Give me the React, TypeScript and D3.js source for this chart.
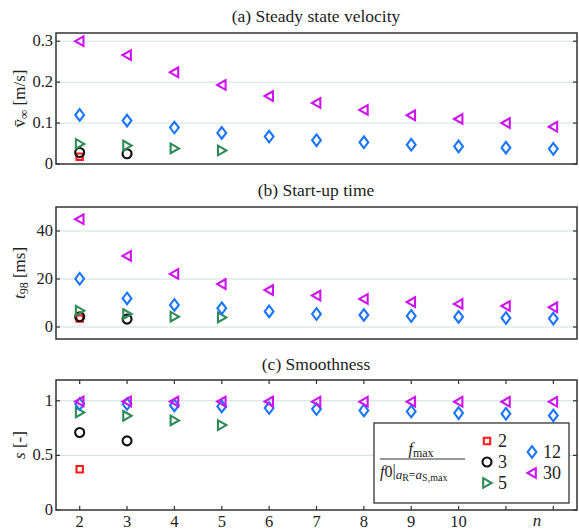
import React from "react";
import * as d3 from "d3";

const nValues = [2, 3, 4, 5, 6, 7, 8, 9, 10, 11, 12];

// ratio f_max / f0 series
const series = [
  { key: "2", color: "#ff1a1a", shape: "square" },
  { key: "3", color: "#111111", shape: "circle" },
  { key: "5", color: "#2e8b57", shape: "triR" },
  { key: "12", color: "#1a75ff", shape: "diamond" },
  { key: "30", color: "#cc14f0", shape: "triL" },
];

// (a) steady state velocity [m/s]
const velocity2 = [0.018];
const velocity3 = [0.028, 0.025];
const velocity5 = [0.049, 0.045, 0.038, 0.033];
const velocity12 = [0.12, 0.106, 0.089, 0.076, 0.067, 0.058, 0.053, 0.047, 0.043, 0.04, 0.037];
const velocity30 = [0.3, 0.266, 0.224, 0.193, 0.166, 0.149, 0.132, 0.119, 0.11, 0.1, 0.091];

// (b) start-up time [ms]
const time2 = [3.5];
const time3 = [4.3, 3.3];
const time5 = [6.8, 5.4, 4.3, 4.0];
const time12 = [20.1, 11.9, 9.2, 7.8, 6.5, 5.4, 5.0, 4.6, 4.2, 3.75, 3.5];
const time30 = [44.9, 29.6, 22.1, 17.9, 15.4, 13.1, 11.7, 10.4, 9.6, 8.75, 8.2];

// (c) smoothness [-]
const smooth2 = [0.373];
const smooth3 = [0.709, 0.633];
const smooth5 = [0.893, 0.862, 0.82, 0.777];
const smooth12 = [0.97, 0.97, 0.957, 0.948, 0.933, 0.924, 0.911, 0.902, 0.887, 0.881, 0.865];
const smooth30 = [0.994, 0.994, 0.993, 0.993, 0.993, 0.992, 0.992, 0.992, 0.991, 0.991, 0.991];

const xTickLabels = ["2", "3", "4", "5", "6", "7", "8", "9", "10", "", ""];

const ticksA = [0, 0.1, 0.2, 0.3];
const ticksB = [0, 20, 40];
const ticksC = [0, 0.5, 1];

const FONT = '"Liberation Serif", serif';
const AXIS = "#333";
const GRID = "#cfdede";

const x = d3.scaleLinear().domain([1.5, 12.5]).range([56, 577]);

function markerPath(shape: string): string {
  switch (shape) {
    case "square":
      return "M-3.2,-3.2H3.2V3.2H-3.2Z";
    case "circle":
      return d3.arc()({ innerRadius: 0, outerRadius: 4.5, startAngle: 0, endAngle: 2 * Math.PI }) as string;
    case "triR":
      return "M-3.8,-4.8L4.6,0L-3.8,4.8Z";
    case "triL":
      return "M3.8,-4.8L-4.6,0L3.8,4.8Z";
    case "diamond":
      return "M0,-5.8L4.4,0L0,5.8L-4.4,0Z";
  }
  return "";
}

function Marker({ shape, color, cx, cy }: any) {
  return (
    <path
      d={markerPath(shape)}
      transform={`translate(${cx},${cy})`}
      fill="none"
      stroke={color}
      strokeWidth={2.1}
    />
  );
}

function Panel({ top, bottom, domain, ticks, fmt, data, title, titleY, ylabel, xTicks }: any) {
  const y = d3.scaleLinear().domain(domain).range([bottom, top]);
  const [x0, x1] = x.range();
  return (
    <g>
      <text x={316} y={titleY} textAnchor="middle" fontSize={17.5} fill="#222">
        {title}
      </text>
      {ticks.map((t: number) => (
        <g key={t}>
          {y(t) < bottom - 1 && <line x1={x0} x2={x1} y1={y(t)} y2={y(t)} stroke={GRID} strokeWidth={1} />}
          <line x1={x0} x2={x0 + 4} y1={y(t)} y2={y(t)} stroke={AXIS} strokeWidth={1.2} />
          <line x1={x1} x2={x1 - 4} y1={y(t)} y2={y(t)} stroke={AXIS} strokeWidth={1.2} />
          <text x={x0 - 3} y={y(t) + 5} textAnchor="end" fontSize={16.5} fill="#222">
            {fmt(t)}
          </text>
        </g>
      ))}
      {xTicks &&
        nValues.map((n) => (
          <g key={n}>
            <line x1={x(n)} x2={x(n)} y1={bottom} y2={bottom - 4} stroke={AXIS} strokeWidth={1.2} />
            <line x1={x(n)} x2={x(n)} y1={top} y2={top + 4} stroke={AXIS} strokeWidth={1.2} />
          </g>
        ))}
      <rect x={x0} y={top} width={x1 - x0} height={bottom - top} fill="none" stroke={AXIS} strokeWidth={1.5} />
      {data.map((vals: number[], si: number) =>
        vals.map((v, i) => (
          <Marker key={`${si}-${i}`} shape={series[si].shape} color={series[si].color} cx={x(nValues[i])} cy={y(v)} />
        ))
      )}
      <g transform={`translate(25,${(top + bottom) / 2}) rotate(-90)`}>{ylabel}</g>
    </g>
  );
}

function Legend() {
  const bx = 374,
    by = 423,
    bw = 195,
    bh = 80;
  const col1 = [0, 1, 2];
  const col2 = [3, 4];
  return (
    <g fill="#222">
      <rect x={bx} y={by} width={bw} height={bh} fill="#fff" stroke={AXIS} strokeWidth={1.3} />
      <text x={421} y={454} textAnchor="middle" fontSize={16}>
        <tspan fontStyle="italic">f</tspan>
        <tspan fontSize={12} dy={3}>max</tspan>
      </text>
      <line x1={380} x2={465} y1={459} y2={459} stroke="#333" strokeWidth={1} />
      <text x={380} y={477} fontSize={16}>
        <tspan fontStyle="italic">f</tspan>
        <tspan>0</tspan>
        <tspan dy={-1}>|</tspan>
        <tspan fontStyle="italic" fontSize={13} dy={3}>a</tspan>
        <tspan fontSize={10} dy={2}>R</tspan>
        <tspan fontSize={12} dy={-2}>=</tspan>
        <tspan fontStyle="italic" fontSize={13}>a</tspan>
        <tspan fontSize={10} dy={2}>S,max</tspan>
      </text>
      {col1.map((si, i) => (
        <g key={si}>
          <Marker shape={series[si].shape} color={series[si].color} cx={487} cy={441 + i * 21} />
          <text x={498} y={447 + i * 21} fontSize={18}>
            {series[si].key}
          </text>
        </g>
      ))}
      {col2.map((si, i) => (
        <g key={si}>
          <Marker shape={series[si].shape} color={series[si].color} cx={532} cy={452 + i * 21} />
          <text x={543} y={458 + i * 21} fontSize={18}>
            {series[si].key}
          </text>
        </g>
      ))}
    </g>
  );
}

export default function App() {
  const labelText = { fontSize: 17, fill: "#222", textAnchor: "middle" as const };
  return (
    <svg
      width={579}
      height={530}
      style={{ position: "absolute", left: 0, top: 0, background: "#fff", fontFamily: FONT }}
    >
      <Panel
        top={33}
        bottom={164}
        domain={[0, 0.32]}
        ticks={ticksA}
        fmt={(t: number) => (t === 0 ? "0" : d3.format(".1f")(t))}
        data={[velocity2, velocity3, velocity5, velocity12, velocity30]}
        title="(a) Steady state velocity"
        titleY={22}
        xTicks={false}
        ylabel={
          <text {...labelText}>
            <tspan>v̄</tspan>
            <tspan fontSize={13} dy={3}>∞</tspan>
            <tspan dy={-3}> [m/s]</tspan>
          </text>
        }
      />
      <Panel
        top={207}
        bottom={339}
        domain={[-5, 50]}
        ticks={ticksB}
        fmt={(t: number) => String(t)}
        data={[time2, time3, time5, time12, time30]}
        title="(b) Start-up time"
        titleY={196}
        xTicks={false}
        ylabel={
          <text {...labelText}>
            <tspan fontStyle="italic">t</tspan>
            <tspan fontSize={12} dy={3}>98</tspan>
            <tspan dy={-3}> [ms]</tspan>
          </text>
        }
      />
      <Panel
        top={380}
        bottom={510}
        domain={[0, 1.19]}
        ticks={ticksC}
        fmt={(t: number) => String(t)}
        data={[smooth2, smooth3, smooth5, smooth12, smooth30]}
        title="(c) Smoothness"
        titleY={370}
        xTicks={true}
        ylabel={
          <text {...labelText}>
            <tspan fontStyle="italic">s</tspan>
            <tspan> [-]</tspan>
          </text>
        }
      />
      {nValues.map((n, i) => (
        <text key={n} x={x(n)} y={527} textAnchor="middle" fontSize={16.5} fill="#222">
          {xTickLabels[i]}
        </text>
      ))}
      <text x={537} y={526} textAnchor="middle" fontSize={17} fontStyle="italic" fill="#222">
        n
      </text>
      <Legend />
    </svg>
  );
}
